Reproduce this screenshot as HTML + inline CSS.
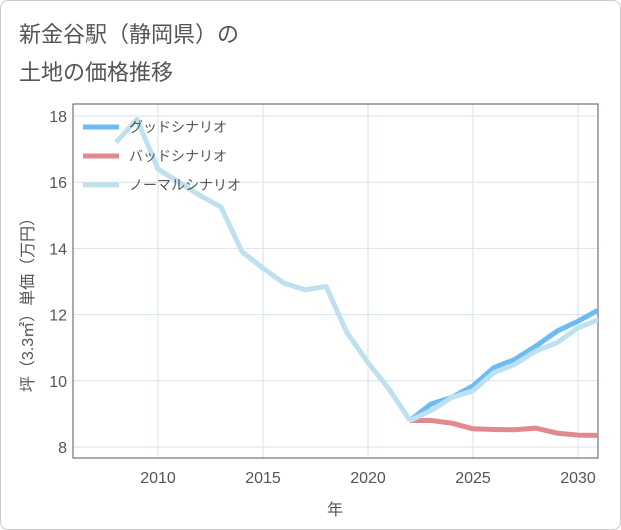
<!DOCTYPE html>
<html><head><meta charset="utf-8"><style>
body{margin:0;background:#fff;font-family:"Liberation Sans","Noto Sans CJK JP",sans-serif;}
#wrap{position:relative;width:619px;height:528px;border:1px solid #ccc;border-radius:8px;overflow:hidden;}
.t{position:absolute;left:18px;font-size:22px;color:#555;}
</style></head><body>
<div id="wrap">
<div class="t" style="top:16px">新金谷駅（静岡県）の</div>
<div class="t" style="top:54px">土地の価格推移</div>
<svg id="c" width="621" height="530" style="position:absolute;left:0;top:0"></svg>
</div>
<script>
const years=[2008,2009,2010,2011,2012,2013,2014,2015,2016,2017,2018,2019,2020,2021,2022];
const normalHist=[17.2,17.9,16.4,16.0,15.6,15.25,13.9,13.4,12.95,12.75,12.85,11.45,10.55,9.75,8.8];
const futYears=[2022,2023,2024,2025,2026,2027,2028,2029,2030,2031];
const good=[8.8,9.3,9.5,9.85,10.4,10.65,11.05,11.5,11.8,12.15];
const bad=[8.8,8.8,8.72,8.55,8.53,8.52,8.57,8.42,8.36,8.35];
const normalFut=[8.8,9.1,9.5,9.7,10.25,10.5,10.9,11.15,11.6,11.85];
const xTicks=[2010,2015,2020,2025,2030];
const yTicks=[8,10,12,14,16,18];
const NS='http://www.w3.org/2000/svg',svg=document.getElementById('c');
const L=72,R=597,T=103,B=457;
const X=y=>157+(y-2010)*21, Y=v=>446-(v-8)*33.1;
function el(t,a,p){const e=document.createElementNS(NS,t);for(const k in a)e.setAttribute(k,a[k]);(p||svg).appendChild(e);return e;}
const cp=el('clipPath',{id:'cp'});el('rect',{x:L,y:T,width:R-L,height:B-T},cp);
xTicks.forEach(t=>{const g=el('line',{x1:X(t),x2:X(t),y1:T,y2:B,stroke:'#d8e2ea'});

const s=el('text',{x:X(t),y:482,'text-anchor':'middle','font-size':16,fill:'#555'});s.textContent=t;
});
yTicks.forEach(t=>{const g=el('line',{x1:L,x2:R,y1:Y(t),y2:Y(t),stroke:'#d8e2ea'});

const s=el('text',{x:66,y:Y(t)+6,'text-anchor':'end','font-size':16,fill:'#555'});s.textContent=t;
});
const fr=el('rect',{x:L,y:T,width:R-L,height:B-T,fill:'none',stroke:'#556'});

function line(xs,vs,c,n){const p=el('polyline',{points:xs.map((x,i)=>X(x)+','+Y(vs[i])).join(' '),fill:'none',stroke:c,'stroke-width':5,'stroke-linejoin':'round','clip-path':'url(#cp)'});
}
line(futYears,good,'#6bbcf2','good-scenario-line');
line(futYears,bad,'#e08a90','bad-scenario-line');
line(years,normalHist,'#bfe0ee','normal-history-line');
line(futYears,normalFut,'#bfe0ee','normal-scenario-line');
[['グッドシナリオ','#6bbcf2'],['バッドシナリオ','#e08a90'],['ノーマルシナリオ','#bfe0ee']].forEach((d,i)=>{
const y=126+i*29;const l=el('line',{x1:82,x2:118,y1:y,y2:y,stroke:d[1],'stroke-width':5});

const s=el('text',{x:128,y:y+5,'font-size':14,fill:'#555'});s.textContent=d[0];
});
const xt=el('text',{x:334,y:514,'text-anchor':'middle','font-size':16,fill:'#555'});xt.textContent='年';

const yt=el('text',{x:0,y:0,transform:'translate(32,300) rotate(-90)','text-anchor':'middle','font-size':16,fill:'#555'});yt.textContent='坪（3.3㎡）単価（万円）';

</script>
</body></html>
